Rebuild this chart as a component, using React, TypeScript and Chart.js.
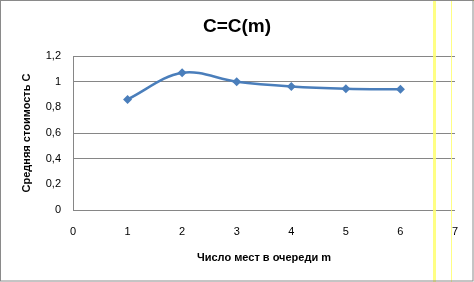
import React, { useEffect, useRef } from "react";
import { Chart, registerables } from "chart.js";

Chart.register(...registerables);

const chartTitle = "C=C(m)";
const xAxisTitle = "Число мест в очереди m";
const yAxisTitle = "Средняя стоимость C";
const queuePlaces = [1, 2, 3, 4, 5, 6];
const avgCost = [0.862, 1.07, 1.0, 0.963, 0.945, 0.94];
const hiddenGridValues = [0.8, 0.2];

const FONT = "'Liberation Sans', Arial, sans-serif";
const LINE_COLOR = "#4A7EBB";
const GRID_COLOR = "#868686";

const decorPlugin = {
  id: "decor",
  afterDraw(chart: any) {
    const ctx = chart.ctx as CanvasRenderingContext2D;
    const w = chart.width;
    const h = chart.height;
    ctx.save();
    // texts
    ctx.fillStyle = "#000";
    ctx.textAlign = "center";
    ctx.textBaseline = "middle";
    ctx.font = `bold 19px ${FONT}`;
    ctx.fillText(chartTitle, 237, 27);
    ctx.font = `bold 11px ${FONT}`;
    ctx.fillText(xAxisTitle, 264, 258);
    ctx.save();
    ctx.translate(27, 133);
    ctx.rotate(-Math.PI / 2);
    ctx.fillText(yAxisTitle, 0, 0);
    ctx.restore();
    // yellow overlay artifacts
    ctx.fillStyle = "rgba(255,255,110,0.85)";
    ctx.fillRect(433, 0, 3, h);
    ctx.fillRect(451, 0, 1, h);
    ctx.fillStyle = "#9a9a3a";
    ctx.fillRect(432, 0, w - 432, 1);
    // outer border
    ctx.strokeStyle = "#8a8a8a";
    ctx.lineWidth = 1;
    ctx.strokeRect(0.5, 0.5, w - 1.5, h - 1.5);
    ctx.restore();
  },
};

export default function App() {
  const ref = useRef<HTMLCanvasElement>(null);
  useEffect(() => {
    document.body.style.margin = "0";
    const canvas = ref.current!;
    const chart = new Chart(canvas, {
      type: "line",
      data: {
        datasets: [
          {
            data: queuePlaces.map((x, i) => ({ x, y: avgCost[i] })),
            borderColor: LINE_COLOR,
            backgroundColor: LINE_COLOR,
            borderWidth: 2.5,
            tension: 0.35,
            pointStyle: "rectRot",
            pointRadius: 4.5,
            pointBorderWidth: 0,
            fill: false,
          },
        ],
      },
      options: {
        responsive: false,
        animation: false,
        devicePixelRatio: 1,
        layout: { padding: { top: 56, right: 19, left: 0, bottom: 0 } },
        plugins: {
          legend: { display: false },
          title: { display: false },
          tooltip: { enabled: false },
        },
        scales: {
          x: {
            type: "linear",
            min: 0,
            max: 7,
            afterFit: (s: any) => {
              s.height = 72;
            },
            ticks: {
              stepSize: 1,
              padding: 15,
              color: "#000",
              font: { family: FONT, size: 11 },
            },
            grid: { display: false, drawTicks: false },
            border: { display: false },
          },
          y: {
            type: "linear",
            min: 0,
            max: 1.2,
            afterFit: (s: any) => {
              s.width = 73;
            },
            ticks: {
              stepSize: 0.2,
              padding: 12,
              color: "#000",
              font: { family: FONT, size: 11 },
              callback: (v: any) => String(Math.round(Number(v) * 10) / 10).replace(".", ","),
            },
            grid: {
              drawTicks: false,
              lineWidth: 1,
              color: (c: any) =>
                c.tick && hiddenGridValues.some((g) => Math.abs(c.tick.value - g) < 1e-6)
                  ? "rgba(0,0,0,0)"
                  : GRID_COLOR,
            },
            border: { display: true, color: GRID_COLOR, width: 1 },
          },
        },
      },
      plugins: [decorPlugin],
    } as any);
    return () => chart.destroy();
  }, []);
  return <canvas ref={ref} width={474} height={282} style={{ display: "block" }} />;
}
